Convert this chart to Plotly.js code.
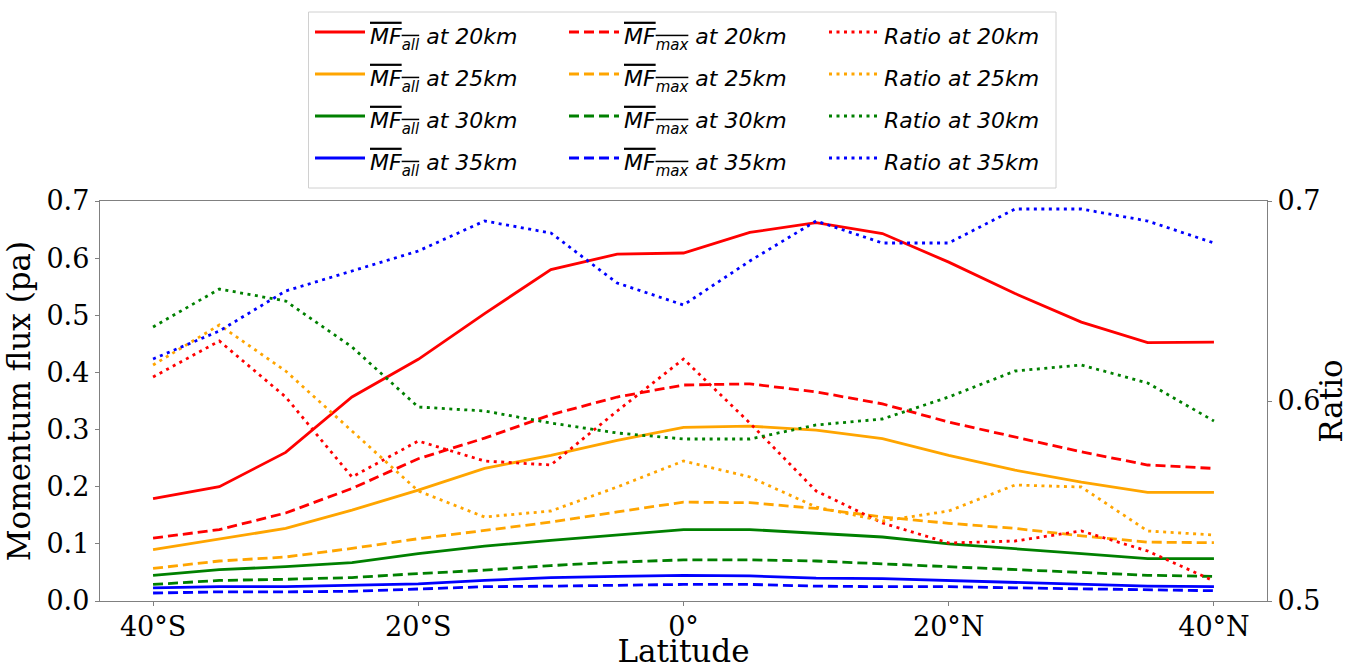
<!DOCTYPE html>
<html>
<head>
<meta charset="utf-8">
<script src="https://cdn.plot.ly/plotly-3.0.1.min.js"></script>
<style>
html,body{margin:0;padding:0;background:#fff;}
#chart{width:1349px;height:669px;}
</style>
</head>
<body>
<div id="chart"></div>
<script>
// Latitudes (degrees, negative = south)
const latitudes = [-40,-35,-30,-25,-20,-15,-10,-5,0,5,10,15,20,25,30,35,40];
const latTickVals = [-40,-20,0,20,40];
const latTickText = ['40°S','20°S','0°','20°N','40°N'];
const altitudes = ['20km','25km','30km','35km'];

// Mean momentum flux of all waves (Pa)
const mfAll20 = [0.179,0.200,0.260,0.357,0.423,0.503,0.580,0.607,0.609,0.645,0.662,0.643,0.593,0.538,0.488,0.452,0.453];
const mfAll25 = [0.090,0.109,0.127,0.159,0.194,0.232,0.255,0.281,0.304,0.306,0.299,0.284,0.255,0.229,0.208,0.190,0.190];
const mfAll30 = [0.045,0.055,0.060,0.067,0.083,0.096,0.106,0.115,0.125,0.125,0.118,0.112,0.100,0.092,0.083,0.074,0.074];
const mfAll35 = [0.023,0.025,0.025,0.028,0.030,0.036,0.041,0.043,0.045,0.044,0.040,0.039,0.036,0.033,0.030,0.026,0.025];

// Mean momentum flux of the maximum waves (Pa)
const mfMax20 = [0.110,0.125,0.154,0.197,0.249,0.285,0.326,0.357,0.378,0.380,0.366,0.345,0.313,0.287,0.261,0.238,0.232];
const mfMax25 = [0.057,0.070,0.077,0.092,0.109,0.124,0.138,0.156,0.173,0.172,0.162,0.147,0.136,0.127,0.114,0.103,0.102];
const mfMax30 = [0.029,0.036,0.038,0.041,0.048,0.054,0.062,0.068,0.072,0.072,0.070,0.065,0.060,0.056,0.051,0.045,0.043];
const mfMax35 = [0.014,0.016,0.016,0.017,0.021,0.025,0.026,0.028,0.029,0.029,0.026,0.025,0.025,0.023,0.021,0.019,0.018];

// Ratio (right axis)
const ratio20 = [0.612,0.630,0.602,0.562,0.580,0.570,0.568,0.595,0.621,0.589,0.555,0.539,0.529,0.530,0.535,0.525,0.510];
const ratio25 = [0.618,0.638,0.615,0.585,0.555,0.542,0.545,0.557,0.570,0.562,0.547,0.540,0.545,0.558,0.557,0.535,0.533];
const ratio30 = [0.637,0.656,0.650,0.627,0.597,0.595,0.589,0.584,0.581,0.581,0.588,0.591,0.602,0.615,0.618,0.609,0.590];
const ratio35 = [0.621,0.635,0.655,0.665,0.675,0.690,0.684,0.659,0.648,0.670,0.690,0.679,0.679,0.696,0.696,0.690,0.679];

const colors = ['#ff0000','#ffa500','#008000','#0000ff'];
const allSeries = [mfAll20, mfAll25, mfAll30, mfAll35];
const maxSeries = [mfMax20, mfMax25, mfMax30, mfMax35];
const ratioSeries = [ratio20, ratio25, ratio30, ratio35];

const LW = 2.8;
const itemSpan = (s) => '<span style="font-size:22px">' + s + '</span>';
const mfLabel = (sub, alt) => itemSpan('<i><span style="text-decoration:overline">MF<span style="font-size:15px;baseline-shift:-6px">' + sub + '</span></span> at ' + alt + '</i>');
const ratioLabel = (alt) => itemSpan('<i>Ratio at ' + alt + '</i>');

const traces = [];
allSeries.forEach((s, i) => traces.push({
  x: latitudes, y: s, type: 'scatter', mode: 'lines', yaxis: 'y',
  line: {color: colors[i], width: LW}, name: mfLabel('all', altitudes[i]),
  legend: 'legend', legendrank: i + 1
}));
maxSeries.forEach((s, i) => traces.push({
  x: latitudes, y: s, type: 'scatter', mode: 'lines', yaxis: 'y',
  line: {color: colors[i], width: LW, dash: '10px,5px'}, name: mfLabel('max', altitudes[i]),
  legend: 'legend2', legendrank: i + 1
}));
ratioSeries.forEach((s, i) => traces.push({
  x: latitudes, y: s, type: 'scatter', mode: 'lines', yaxis: 'y2',
  line: {color: colors[i], width: LW, dash: '3px,4.5px'}, name: ratioLabel(altitudes[i]),
  legend: 'legend3', legendrank: i + 1
}));

const M = {l: 100, r: 82, t: 201, b: 68, autoexpand: false};
const W = 1349, H = 669;
const PW = W - M.l - M.r, PH = H - M.t - M.b;
const px = (x) => (x - M.l) / PW;
const py = (y) => 1 + (M.t - y) / PH;

const legendBase = {
  orientation: 'v', xanchor: 'left', yanchor: 'top', y: py(6),
  bgcolor: 'rgba(0,0,0,0)', borderwidth: 0,
  font: {family: 'DejaVu Sans', size: 30, color: '#000'},
  itemwidth: 50, tracegroupgap: 0
};

const axisFont = {family: 'DejaVu Serif', size: 27, color: '#000'};
const titleFont = {family: 'DejaVu Serif', size: 31, color: '#000'};

const layout = {
  width: W, height: H,
  margin: M,
  paper_bgcolor: '#fff', plot_bgcolor: '#fff',
  showlegend: true,
  legend: Object.assign({}, legendBase, {x: px(310)}),
  legend2: Object.assign({}, legendBase, {x: px(564)}),
  legend3: Object.assign({}, legendBase, {x: px(824)}),
  xaxis: {
    range: [-44, 44], tickvals: latTickVals, ticktext: latTickText,
    showgrid: false, zeroline: false, showline: true, linecolor: '#808080', linewidth: 1.2,
    mirror: true, ticks: 'outside', ticklen: 4, tickcolor: '#808080',
    ticklabelstandoff: -3,
    tickfont: axisFont,
    title: {text: 'Latitude', font: titleFont, standoff: 20}
  },
  yaxis: {
    range: [0, 0.7], dtick: 0.1, tick0: 0, tickformat: '.1f',
    showgrid: false, zeroline: false, showline: true, linecolor: '#808080', linewidth: 1.2,
    ticks: 'outside', ticklen: 4, tickcolor: '#808080',
    tickfont: axisFont,
    title: {text: 'Momentum flux (pa)', font: titleFont, standoff: 6}
  },
  yaxis2: {
    range: [0.5, 0.7], dtick: 0.1, tick0: 0.5, tickformat: '.1f',
    overlaying: 'y', side: 'right',
    showgrid: false, zeroline: false, showline: true, linecolor: '#808080', linewidth: 1.2,
    ticks: 'outside', ticklen: 4, tickcolor: '#808080',
    tickfont: axisFont,
    title: {text: 'Ratio', font: titleFont, standoff: 14}
  },
  shapes: [{
    type: 'rect', xref: 'paper', yref: 'paper', layer: 'below',
    x0: px(308.5), x1: px(1056), y0: py(188), y1: py(12),
    line: {color: '#d0d0d0', width: 1}, fillcolor: '#ffffff'
  }]
};

Plotly.newPlot('chart', traces, layout, {staticPlot: true, displayModeBar: false});
</script>
</body>
</html>
